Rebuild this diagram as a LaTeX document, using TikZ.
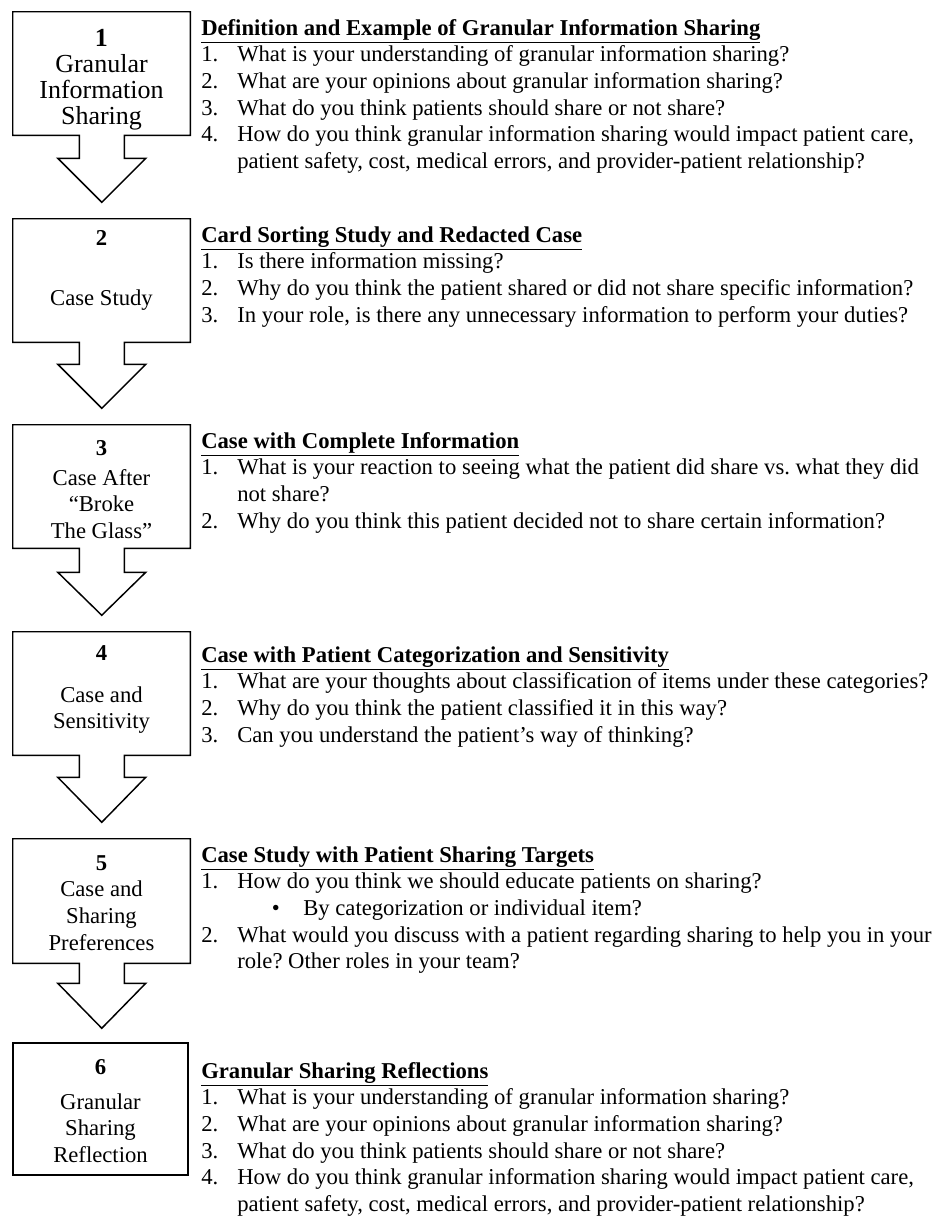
\documentclass[tikz,border=0pt]{standalone}
\usepackage{fontspec}
\setmainfont{Liberation Serif}
\frenchspacing
\newcommand{\qitem}[2]{\makebox[27pt][l]{#1}#2}
\newcommand{\qcont}[1]{\hspace*{27pt}#1}
\newcommand{\qbullet}[1]{\hspace*{53pt}\makebox[23.5pt][l]{\textbullet}#1}
\newcommand{\qhead}[1]{\strut\underline{\textbf{#1}}}
\begin{document}
\begin{tikzpicture}[x=0.75pt, y=-0.75pt, line join=miter,
  font=\fontsize{17}{20}\selectfont,
  box/.style={minimum width=132.75pt, inner sep=0pt},
  outline/.style={line width=1.1pt},
  lbl/.style={anchor=north, align=center, inner sep=0pt},
  qs/.style={anchor=north west, align=left, inner sep=0pt}]
\useasboundingbox (0,0) rectangle (937,1218);
% boxes 1-5 with their down arrows
\foreach \i/\T/\B/\H/\P in {1/12/135/158/202, 2/219/342/364/408, 3/425/548/572/615, 4/632/755/777/822, 5/839/963/983/1028}{
  \node[box, minimum height={(\B-\T)*0.75pt}] (b\i) at (101.5,{(\T+\B)/2}) {};
  \draw[outline] (b\i.south west) -- (b\i.north west) -- (b\i.north east) -- (b\i.south east)
    -- ++(-66,0) -- ++(0,{\H-\B}) -- ++(21.5,0) -- ++(-44,{\P-\H}) -- ++(-44,{\H-\P})
    -- ++(21.5,0) -- ++(0,{\B-\H}) -- cycle;
}
% last box, no arrow
\node[box, draw, outline, minimum width=131.25pt, minimum height=99pt] (b6) at (100.5,1109) {};
% box labels
\node[lbl, font=\fontsize{19.5}{19.5}\selectfont] (l1) at (101.5,28.3) {\strut\textbf{1}\\Granular\\Information\\Sharing};
\node[lbl] (l2) at (101.5,226.3) {\strut\textbf{2}\\[25pt]Case Study};
\node[lbl] (l3) at (101.5,436.3) {\strut\textbf{3}\\[2.5pt]Case After\\“Broke\\The Glass”};
\node[lbl] (l4) at (101.5,641.3) {\strut\textbf{4}\\[11.5pt]Case and\\Sensitivity};
\node[lbl] (l5) at (101.5,851.3) {\strut\textbf{5}\\Case and\\Sharing\\Preferences};
\node[lbl] (l6) at (100.5,1055.3) {\strut\textbf{6}\\[6.25pt]Granular\\Sharing\\Reflection};
% questions
\node[qs] (q1) at (201,16.3) {\qhead{Definition and Example of Granular Information Sharing}\\
  \qitem{1.}{What is your understanding of granular information sharing?}\\
  \qitem{2.}{What are your opinions about granular information sharing?}\\
  \qitem{3.}{What do you think patients should share or not share?}\\
  \qitem{4.}{How do you think granular information sharing would impact patient care,}\\
  \qcont{patient safety, cost, medical errors, and provider-patient relationship?}};
\node[qs] (q2) at (201,223.3) {\qhead{Card Sorting Study and Redacted Case}\\
  \qitem{1.}{Is there information missing?}\\
  \qitem{2.}{Why do you think the patient shared or did not share specific information?}\\
  \qitem{3.}{In your role, is there any unnecessary information to perform your duties?}};
\node[qs] (q3) at (201,429.3) {\qhead{Case with Complete Information}\\
  \qitem{1.}{What is your reaction to seeing what the patient did share vs. what they did}\\
  \qcont{not share?}\\
  \qitem{2.}{Why do you think this patient decided not to share certain information?}};
\node[qs] (q4) at (201,643.3) {\qhead{Case with Patient Categorization and Sensitivity}\\
  \qitem{1.}{What are your thoughts about classification of items under these categories?}\\
  \qitem{2.}{Why do you think the patient classified it in this way?}\\
  \qitem{3.}{Can you understand the patient’s way of thinking?}};
\node[qs] (q5) at (201,843.3) {\qhead{Case Study with Patient Sharing Targets}\\
  \qitem{1.}{How do you think we should educate patients on sharing?}\\
  \qbullet{By categorization or individual item?}\\
  \qitem{2.}{What would you discuss with a patient regarding sharing to help you in your}\\
  \qcont{role? Other roles in your team?}};
\node[qs] (q6) at (201,1059.3) {\qhead{Granular Sharing Reflections}\\
  \qitem{1.}{What is your understanding of granular information sharing?}\\
  \qitem{2.}{What are your opinions about granular information sharing?}\\
  \qitem{3.}{What do you think patients should share or not share?}\\
  \qitem{4.}{How do you think granular information sharing would impact patient care,}\\
  \qcont{patient safety, cost, medical errors, and provider-patient relationship?}};
\end{tikzpicture}
\end{document}
